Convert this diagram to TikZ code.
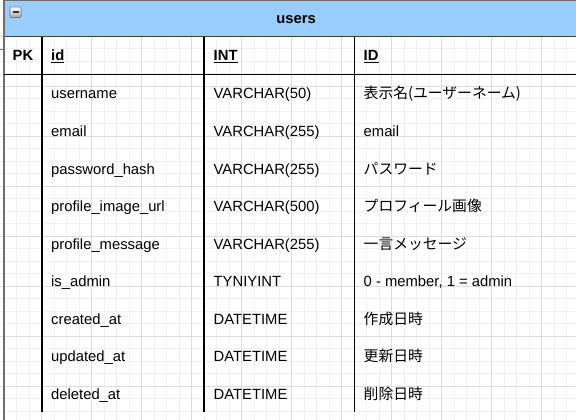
\documentclass[tikz,border=0pt]{standalone}
\usepackage{fontspec}
\setmainfont{Liberation Sans}
\newfontfamily\jp{Noto Sans CJK JP}
\definecolor{minorgrid}{HTML}{F1F1F1}
\definecolor{majorgrid}{HTML}{DCDCDC}
\definecolor{headfill}{HTML}{99CCFF}
\definecolor{outline}{HTML}{6E6E6E}
\newcommand{\ulx}[1]{\underline{#1}}
\begin{document}
\begin{tikzpicture}[x=1pt,y=-1pt,
  cell/.style={anchor=base west,inner sep=0pt,font=\fontsize{14.8}{17}\selectfont,text=black},
  hcell/.style={cell,font=\fontsize{14.8}{17}\selectfont\bfseries},
  jcell/.style={cell,font=\fontsize{14.8}{17}\selectfont\jp},
  colline/.style={line width=1.4pt,black},
  rowline/.style={line width=1.4pt,black},
  edge/.style={line width=1.3pt,outline}]
\useasboundingbox (0,0) rectangle (576,420);
\fill[white] (0,0) rectangle (576,420);
% grid
\foreach \k in {0,...,45} \draw[minorgrid,line width=0.8pt] ({4.2+12.5*\k},0) -- ({4.2+12.5*\k},420);
\foreach \k in {0,...,34} \draw[minorgrid,line width=0.8pt] (0,{-1.5+12.5*\k}) -- (576,{-1.5+12.5*\k});
\foreach \k in {0,...,10} \draw[majorgrid,line width=0.8pt] ({41.7+50*\k},0) -- ({41.7+50*\k},420);
\foreach \k in {0,...,7} \draw[majorgrid,line width=0.8pt] (0,{36+50*\k}) -- (576,{36+50*\k});
% header
\fill[headfill] (4,0) rectangle (580,36.7);
\draw[edge] (4,0.5) -- (580,0.5);
\draw[line width=1.3pt,black!75] (4,36.7) -- (580,36.7);
\draw[edge] (4,0) -- (4,420);
\draw[edge,line width=1pt] (0,49.5) -- (4,49.5);
% collapse icon
\shade[top color=white,bottom color=black!35,draw=black!55,line width=0.6pt,rounded corners=1pt] (10,7) rectangle (21,17.5);
\draw[line width=1.6pt,black!80] (12.5,12.3) -- (18.5,12.3);
\node[inner sep=0pt,anchor=base,font=\fontsize{14.8}{17}\selectfont\bfseries] (title) at (296,24) {users};
% row and column lines
\draw[rowline] (4,74.3) -- (580,74.3);
\coordinate (c1t) at (42,36.7); \coordinate (c1b) at (42,411.5);
\coordinate (c2t) at (204,36.7); \coordinate (c2b) at (204,411.5);
\coordinate (c3t) at (354.3,36.7); \coordinate (c3b) at (354.3,411.5);
\draw[colline] (c1t) -- (c1b);
\draw[colline] (c2t) -- (c2b);
\draw[colline] (c3t) -- (c3b);
% header row
\node[hcell,anchor=base] (pk) at (23,61) {PK};
\node[hcell] (hid) at (51,61) {\ulx{id}};
\node[hcell] (hint) at (213.5,61) {\ulx{INT}};
\node[hcell] (hID) at (363.5,61) {\ulx{ID}};
% body rows
\foreach \n/\t/\c [count=\i from 0] in {
  username/VARCHAR(50)/{表示名(ユーザーネーム)},
  email/VARCHAR(255)/{\rmfamily email},
  password\_hash/VARCHAR(255)/{パスワード},
  profile\_image\_url/VARCHAR(500)/{プロフィール画像},
  profile\_message/VARCHAR(255)/{一言メッセージ},
  is\_admin/TYNIYINT/{\rmfamily 0 - member, 1 = admin},
  created\_at/DATETIME/{作成日時},
  updated\_at/DATETIME/{更新日時},
  deleted\_at/DATETIME/{削除日時}} {
  \node[cell] (n\i) at (51,{99+37.5*\i}) {\n};
  \node[cell] (t\i) at (213.5,{99+37.5*\i}) {\t};
  \node[jcell] (d\i) at (363.5,{99+37.5*\i}) {\c};
}
\end{tikzpicture}
\end{document}
